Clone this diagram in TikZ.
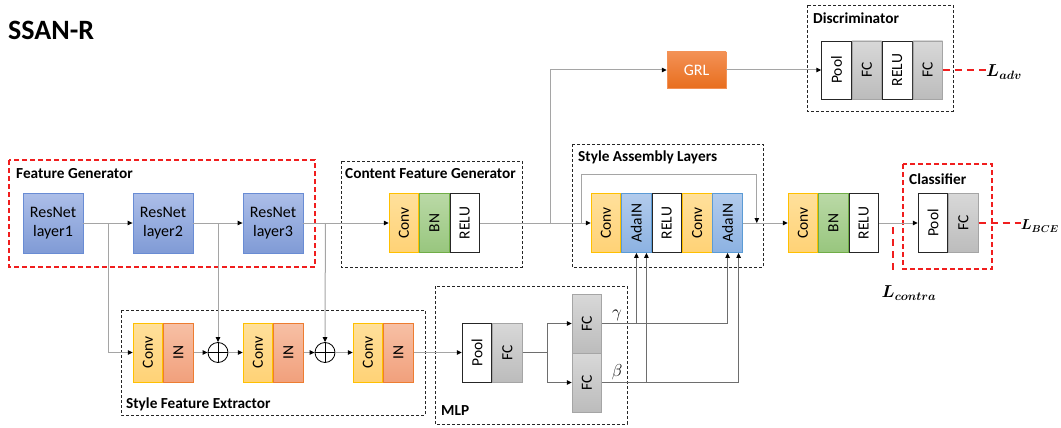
\documentclass[tikz,border=0pt]{standalone}
\usepackage{fontspec}
\setmainfont{Carlito}
\usepackage{bm}
\usepackage{graphicx}
\usepackage{tikz}
\usetikzlibrary{arrows.meta, positioning, calc}
\definecolor{restop}{RGB}{172, 190, 232}
\definecolor{resbot}{RGB}{128, 155, 214}
\definecolor{resedge}{RGB}{105, 140, 212}
\definecolor{convtop}{RGB}{255, 224, 155}
\definecolor{convbot}{RGB}{255, 210, 118}
\definecolor{convedge}{RGB}{255, 192, 0}
\definecolor{bntop}{RGB}{186, 217, 166}
\definecolor{bnbot}{RGB}{152, 198, 126}
\definecolor{bnedge}{RGB}{112, 173, 71}
\definecolor{intop}{RGB}{247, 192, 165}
\definecolor{inbot}{RGB}{241, 160, 124}
\definecolor{inedge}{RGB}{237, 125, 49}
\definecolor{adatop}{RGB}{178, 203, 236}
\definecolor{adabot}{RGB}{140, 178, 226}
\definecolor{adaedge}{RGB}{91, 155, 213}
\definecolor{fctop}{RGB}{216, 216, 216}
\definecolor{fcbot}{RGB}{188, 188, 188}
\definecolor{fcedge}{RGB}{165, 165, 165}
\definecolor{grltop}{RGB}{243, 145, 85}
\definecolor{grlbot}{RGB}{232, 110, 30}
\definecolor{linegray}{RGB}{165, 165, 165}
\definecolor{linedark}{RGB}{110, 110, 110}
\definecolor{lossred}{RGB}{240, 30, 30}
\newcommand{\vtext}[1]{\rotatebox{90}{#1}}

\begin{document}
\begin{tikzpicture}[
    x=1pt, y=-1pt,
    blk/.style={rectangle, minimum width=29.6pt, minimum height=59pt, inner sep=0pt, font=\fontsize{15.5}{17}\selectfont, line width=0.8pt},
    conv/.style={blk, draw=convedge, top color=convtop, bottom color=convbot},
    bn/.style={blk, draw=bnedge, top color=bntop, bottom color=bnbot},
    inorm/.style={blk, draw=inedge, top color=intop, bottom color=inbot},
    adain/.style={blk, draw=adaedge, top color=adatop, bottom color=adabot},
    fc/.style={blk, draw=fcedge, top color=fctop, bottom color=fcbot},
    plain/.style={blk, draw=black!85, fill=white},
    res/.style={rectangle, draw=resedge, top color=restop, bottom color=resbot, minimum width=60pt, minimum height=60pt, inner sep=0pt, align=center, font=\fontsize{16}{19}\selectfont, line width=0.8pt},
    grlbox/.style={rectangle, draw=grltop, top color=grltop, bottom color=grlbot, minimum width=59pt, minimum height=36pt, text=white, font=\fontsize{16}{19}\selectfont},
    oplus/.style={circle, draw=black, minimum size=20pt, inner sep=0pt, line width=0.8pt, path picture={\draw[line width=0.8pt] (path picture bounding box.north) -- (path picture bounding box.south) (path picture bounding box.west) -- (path picture bounding box.east);}},
    group/.style={draw=black!85, dash pattern=on 3pt off 2pt, line width=0.9pt},
    redgroup/.style={draw=lossred, dash pattern=on 5pt off 3pt, line width=1.3pt},
    grouplabel/.style={anchor=west, inner sep=0pt, font=\fontsize{15.3}{17}\selectfont\bfseries},
    conn/.style={draw=linegray, line width=1pt},
    arr/.style={conn, -{Triangle[length=5pt, width=4.5pt, color=black]}},
    loss/.style={draw=lossred, line width=2.2pt, dash pattern=on 7pt off 5pt},
    losslabel/.style={inner sep=0pt, font=\fontsize{17}{20}\selectfont}
]
\useasboundingbox (0,0) rectangle (1061,428);
\node[anchor=west, inner sep=0pt, font=\fontsize{28}{32}\selectfont\bfseries] (title) at (8,30) {SSAN-R};
\draw[redgroup] (9,160) rectangle (315,267);
\draw[group] (341,161) rectangle (522,267);
\draw[group] (572,144) rectangle (763,267);
\draw[group] (807,5) rectangle (953,111);
\draw[redgroup] (903,164) rectangle (992,269);
\draw[group] (121,310) rectangle (425,415);
\draw[group] (435,286) rectangle (627,424);
\node[grouplabel] (fglabel) at (16,174) {Feature Generator};
\node[grouplabel] (cfglabel) at (345,174) {Content Feature Generator};
\node[grouplabel] (sallabel) at (578,157) {Style Assembly Layers};
\node[grouplabel] (dlabel) at (813,18) {Discriminator};
\node[grouplabel] (clabel) at (909,179) {Classifier};
\node[grouplabel] (sfelabel) at (126,404) {Style Feature Extractor};
\node[grouplabel] (mlplabel) at (441,411) {MLP};
\node[res] (res1) at (53,223) {ResNet\\layer1};
\node[res] (res2) at (163,223) {ResNet\\layer2};
\node[res] (res3) at (273,223) {ResNet\\layer3};
\node[conv] (cconv) at (404,223) {\vtext{Conv}};
\node[bn, right=0pt of cconv] (cbn) {\vtext{BN}};
\node[plain, right=0pt of cbn] (crelu) {\vtext{RELU}};
\node[conv] (sconv1) at (606,223) {\vtext{Conv}};
\node[adain, right=0pt of sconv1] (sada1) {\vtext{AdaIN}};
\node[plain, right=0pt of sada1] (srelu) {\vtext{RELU}};
\node[conv, right=0pt of srelu] (sconv2) {\vtext{Conv}};
\node[adain, right=0pt of sconv2] (sada2) {\vtext{AdaIN}};
\node[conv] (fconv) at (803,223) {\vtext{Conv}};
\node[bn, right=0pt of fconv] (fbn) {\vtext{BN}};
\node[plain, right=0pt of fbn] (frelu) {\vtext{RELU}};
\node[plain] (cpool) at (933,223) {\vtext{Pool}};
\node[fc, right=0pt of cpool] (cfc) {\vtext{FC}};
\node[grlbox] (grl) at (696.5,70) {GRL};
\node[plain, minimum height=58pt] (dpool) at (836.5,70) {\vtext{Pool}};
\node[fc, minimum height=58pt, right=0pt of dpool] (dfc1) {\vtext{FC}};
\node[plain, minimum height=58pt, right=0pt of dfc1] (drelu) {\vtext{RELU}};
\node[fc, minimum height=58pt, right=0pt of drelu] (dfc2) {\vtext{FC}};
\node[conv] (econv1) at (148,352.5) {\vtext{Conv}};
\node[inorm, right=0pt of econv1] (ein1) {\vtext{IN}};
\node[oplus] (plus1) at (218,352.5) {};
\node[conv] (econv2) at (258,352.5) {\vtext{Conv}};
\node[inorm, right=0pt of econv2] (ein2) {\vtext{IN}};
\node[oplus] (plus2) at (325,352.5) {};
\node[conv] (econv3) at (368,352.5) {\vtext{Conv}};
\node[inorm, right=0pt of econv3] (ein3) {\vtext{IN}};
\node[plain] (mpool) at (477,352.5) {\vtext{Pool}};
\node[fc, right=0pt of mpool] (mfc) {\vtext{FC}};
\node[fc] (fcg) at (587,323.5) {\vtext{FC}};
\node[fc] (fcb) at (587,382.5) {\vtext{FC}};
\node[font=\fontsize{16}{18}\selectfont, inner sep=0pt] (glabel) at (617,315) {$\gamma$};
\node[font=\fontsize{16}{18}\selectfont, inner sep=0pt] (blabel) at (617,372) {$\beta$};
\node[losslabel, anchor=west] (ladv) at (986,72) {$\bm{L_{adv}}$};
\node[losslabel, anchor=east, font=\fontsize{14.5}{17}\selectfont] (lbce) at (1059,226) {$\bm{L_{BCE}}$};
\node[losslabel] (lcontra) at (909,293) {$\bm{L_{contra}}$};
\coordinate (b1) at ($(res1.east)!0.5!(res2.west)$);
\coordinate (b2) at ($(res2.east)!0.5!(res3.west)$);
\coordinate (b3) at ($(res3.east)+(22,0)$);
\coordinate (up) at ($(crelu.east)+(70,0)$);
\coordinate (skip) at ($(sconv1.west)+(-9,0)$);
\coordinate (split) at ($(mfc.east)+(25,0)$);
\coordinate (ctap) at ($(frelu.east)+(14,4)$);
\draw[arr] (res1) -- (res2);
\draw[arr] (res2) -- (res3);
\draw[arr] (res3) -- (cconv);
\draw[arr] (b1) |- (econv1);
\draw[arr] (b2) -- (plus1);
\draw[arr] (b3) -- (plus2);
\draw[arr] (ein1) -- (plus1); \draw[arr] (plus1) -- (econv2);
\draw[arr] (ein2) -- (plus2); \draw[arr] (plus2) -- (econv3);
\draw[arr] (ein3) -- (mpool);
\draw[conn, linedark] (mfc) -- (split);
\draw[arr, linedark] (split) |- (fcg); \draw[arr, linedark] (split) |- (fcb);
\draw[arr, linedark] (fcg) -| (sada2);
\draw[arr, linedark] (fcg.east -| sada1) -- (sada1);
\draw[arr, linedark] (fcb) -| ($(sada2.south)+(11,0)$);
\draw[arr, linedark] ($(fcb.east -| sada1)+(10,0)$) -- ($(sada1.south)+(10,0)$);
\draw[arr] (crelu) -- (sconv1);
\draw[arr] (up) |- (grl);
\draw[arr] (grl) -- (dpool);
\draw[arr] (skip) -- ++(0,-49) -| ($(sada2.east)+(14,0)$);
\draw[arr] (sada2) -- (fconv);
\draw[arr] (frelu) -- (cpool);
\draw[loss] (dfc2.east) -- (ladv.west |- dfc2.east);
\draw[loss] (cfc.east) -- (lbce.west |- cfc.east);
\draw[loss] (ctap) -- ++(0,46);
\end{tikzpicture}
\end{document}
